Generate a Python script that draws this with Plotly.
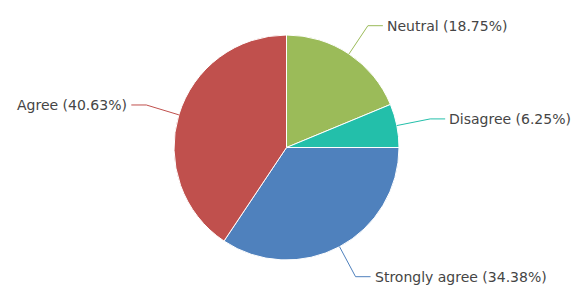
import math
import plotly.graph_objects as go

labels = ["Neutral", "Disagree", "Strongly agree", "Agree"]
values = [6, 2, 11, 13]
colors = ["#9BBB59", "#23BFAA", "#4F81BD", "#C0504D"]

W, H = 576, 286
CX, CY, R = 286.5, 147.5, 112.5
R_ELBOW = R + 34
STUB = 15
GAP = 2

fig = go.Figure(go.Pie(
    labels=labels, values=values, sort=False, direction="clockwise", rotation=0,
    marker=dict(colors=colors, line=dict(color="white", width=1)),
    textinfo="none", hoverinfo="label+percent", showlegend=False,
    domain=dict(x=[(CX - R) / W, (CX + R) / W], y=[1 - (CY + R) / H, 1 - (CY - R) / H]),
))

def px(x):
    return x / W

def py(y):
    return 1 - y / H

total = sum(values)
start = 0.0
shapes, annotations = [], []
for lab, v, c in zip(labels, values, colors):
    frac = v / total
    mid = (start + frac / 2) * 2 * math.pi
    start += frac
    s, co = math.sin(mid), math.cos(mid)
    x0, y0 = CX + R * s, CY - R * co
    x1, y1 = CX + R_ELBOW * s, CY - R_ELBOW * co
    side = 1 if s >= 0 else -1
    x2 = x1 + side * STUB
    path = f"M {px(x0)} {py(y0)} L {px(x1)} {py(y1)} L {px(x2)} {py(y1)}"
    shapes.append(dict(type="path", xref="paper", yref="paper", path=path,
                       line=dict(color=c, width=1)))
    pct = math.floor(10000 * frac + 0.5) / 100
    annotations.append(dict(
        xref="paper", yref="paper", x=px(x2 + side * GAP), y=py(y1),
        text=f"{lab} ({pct:.2f}%)", showarrow=False,
        xanchor="left" if side > 0 else "right", yanchor="middle",
        font=dict(family="DejaVu Sans", size=14, color="#454545"),
    ))

fig.update_layout(
    width=W, height=H, margin=dict(l=0, r=0, t=0, b=0),
    paper_bgcolor="white", plot_bgcolor="white",
    shapes=shapes, annotations=annotations,
)
fig.write_html("out.html", config={"displayModeBar": False},
               post_script="document.body.style.margin='0';")
